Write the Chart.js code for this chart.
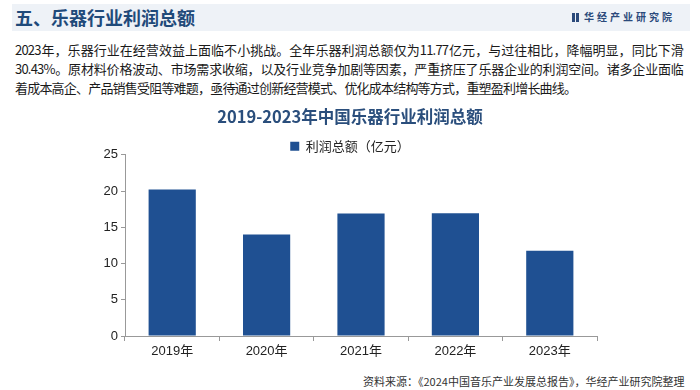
<!DOCTYPE html>
<html><head><meta charset="utf-8">
<script src="https://cdn.jsdelivr.net/npm/chart.js@4.4.1/dist/chart.umd.min.js"></script>
<style>
html,body{margin:0;padding:0;background:#fff;}
#wrap{position:relative;width:700px;height:390px;overflow:hidden;font-family:"Noto Sans CJK SC","Noto Sans",sans-serif;}
#band{position:absolute;left:12px;top:4px;width:678px;height:27px;background:#eef2f7;}
#head{position:absolute;left:15px;top:5px;font-size:18px;font-weight:bold;color:#1f4a7a;line-height:24px;}
#logo{position:absolute;left:572px;top:10px;font-size:10px;font-weight:bold;color:#2b4a7b;letter-spacing:3px;line-height:14px;}
#logo span{display:inline-block;width:7px;height:9px;border-left:3px solid #2b4a7b;border-right:3px solid #2b4a7b;box-sizing:border-box;margin-right:5px;vertical-align:-1px;}
.p{position:absolute;left:15px;width:668px;font-size:13px;color:#1a1a1a;line-height:19px;white-space:nowrap;letter-spacing:-0.8px;}
.j{text-align:justify;text-align-last:justify;white-space:normal;}
#foot{position:absolute;left:363px;top:373px;font-size:11px;color:#333;line-height:16px;}
#cv{position:absolute;left:0;top:100px;}
</style></head><body>
<div id="wrap">
<div id="band"></div>
<div id="head">五、乐器行业利润总额</div>
<div id="logo"><span></span>华经产业研究院</div>
<div class="p j" style="top:40px">2023年，乐器行业在经营效益上面临不小挑战。全年乐器利润总额仅为11.77亿元，与过往相比，降幅明显，同比下滑</div>
<div class="p j" style="top:59px">30.43%。原材料价格波动、市场需求收缩，以及行业竞争加剧等因素，严重挤压了乐器企业的利润空间。诸多企业面临</div>
<div class="p" style="top:78px">着成本高企、产品销售受阻等难题，亟待通过创新经营模式、优化成本结构等方式，重塑盈利增长曲线。</div>
<canvas id="cv" width="700" height="265" style="width:700px;height:265px"></canvas>
<div id="foot">资料来源：《2024中国音乐产业发展总报告》，华经产业研究院整理</div>
</div>
<script>
const categories = ["2019年","2020年","2021年","2022年","2023年"];
const profit = [20.2, 14.0, 16.9, 16.92, 11.77];
const seriesName = "利润总额（亿元）";
const chartTitle = "2019-2023年中国乐器行业利润总额";
const yTicks = [0, 5, 10, 15, 20, 25];

const tightLegend = {
  id: 'tightLegend',
  beforeLayout(chart) {
    const lg = chart.legend;
    if (lg && !lg._patched) {
      const orig = lg.fit.bind(lg);
      lg.fit = function () { orig(); this.height -= 8; };
      lg._patched = true;
    }
  }
};

new Chart(document.getElementById('cv'), {
  type: 'bar',
  data: {
    labels: categories,
    datasets: [{
      label: seriesName,
      data: profit,
      backgroundColor: '#1f5092',
      borderWidth: 0,
      categoryPercentage: 0.5,
      barPercentage: 1.0
    }]
  },
  plugins: [tightLegend],
  options: {
    responsive: false,
    animation: false,
    layout: { padding: { left: 103, right: 103, top: 0, bottom: 0 } },
    plugins: {
      tooltip: { enabled: false },
      title: {
        display: true, text: chartTitle, color: '#2a4e7c',
        font: { family: '"Noto Sans CJK SC"', size: 16.5, weight: 'bold' },
        padding: { top: 7, bottom: 4 }
      },
      legend: {
        display: true, position: 'top',
        labels: {
          boxWidth: 9, boxHeight: 9, padding: 9, color: '#222',
          font: { family: '"Noto Sans CJK SC"', size: 13 }
        }
      }
    },
    scales: {
      x: {
        grid: { display: true, drawOnChartArea: false, tickLength: 5, color: '#999', offset: true },
        border: { display: true, color: '#999' },
        ticks: { color: '#222', padding: 3, font: { family: '"Liberation Sans","Noto Sans CJK SC"', size: 13 } },
        afterFit: s => { s.height = 29; }
      },
      y: {
        min: 0, max: 25,
        afterBuildTicks: s => { s.ticks = yTicks.map(v => ({ value: v })); },
        grid: { display: true, drawOnChartArea: false, tickLength: 4, color: '#999' },
        border: { display: true, color: '#999' },
        ticks: { color: '#222', padding: 3, font: { family: '"Liberation Sans"', size: 13 } },
        afterFit: s => { s.width = 22; }
      }
    }
  }
});
</script>
</body></html>
